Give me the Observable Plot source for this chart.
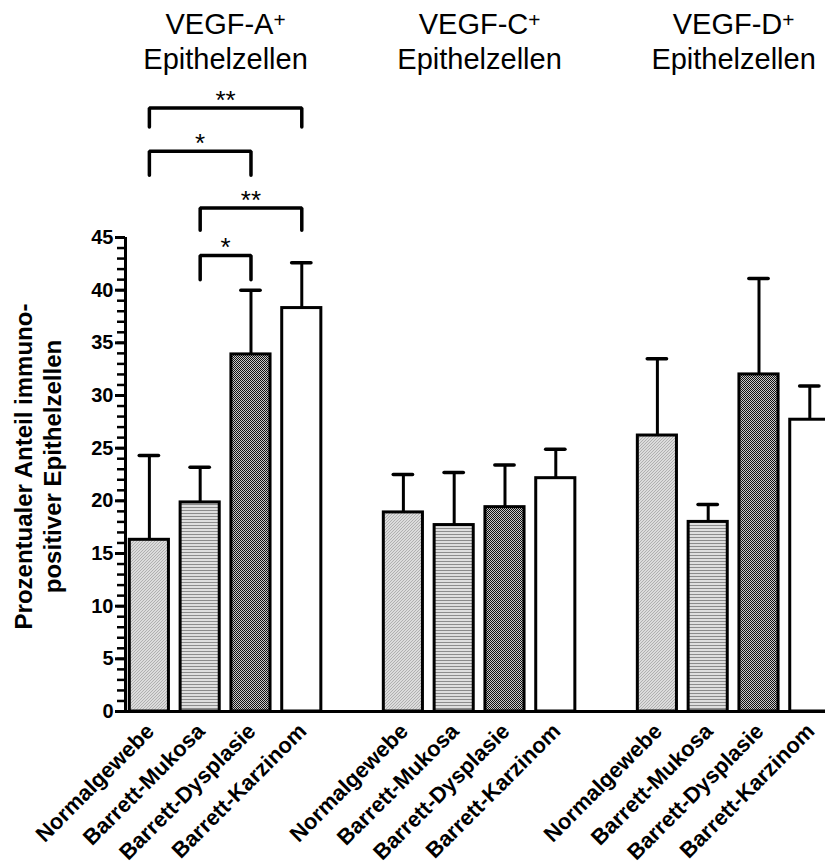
<!DOCTYPE html>
<html><head><meta charset="utf-8">
<script src="https://cdn.jsdelivr.net/npm/d3@7"></script>
<script src="https://cdn.jsdelivr.net/npm/@observablehq/plot@0.6"></script>
<style>
html,body{margin:0;padding:0;background:#fff;overflow:hidden;}
#chart{width:825px;height:866px;overflow:hidden;}
#chart svg{overflow:hidden !important;}
</style></head><body><div id="chart"></div>
<script>
// ---- data ----
const groups = ["VEGF-A", "VEGF-C", "VEGF-D"];
const groupTitles = ["VEGF-A⁺\nEpithelzellen", "VEGF-C⁺\nEpithelzellen", "VEGF-D⁺\nEpithelzellen"];
const categories = ["Normalgewebe", "Barrett-Mukosa", "Barrett-Dysplasie", "Barrett-Karzinom"];
const meanA = [16.3, 19.85, 33.9, 38.3];
const errA  = [8.0, 3.35, 6.1, 4.3];
const meanC = [18.9, 17.7, 19.4, 22.15];
const errC  = [3.6, 5.0, 4.0, 2.75];
const meanD = [26.2, 18.0, 32.0, 27.7];
const errD  = [7.3, 1.65, 9.1, 3.2];
const yTicks = [0, 5, 10, 15, 20, 25, 30, 35, 40, 45];
const yMinorTicks = d3.range(0, 46);
const yTitle = "Prozentualer Anteil immuno-\npositiver Epithelzellen";
// significance brackets (VEGF-A group)
const bracketFrom  = ["Normalgewebe", "Normalgewebe", "Barrett-Mukosa", "Barrett-Mukosa"];
const bracketTo    = ["Barrett-Karzinom", "Barrett-Dysplasie", "Barrett-Karzinom", "Barrett-Dysplasie"];
const bracketTop   = [57.3, 53.2, 47.8, 43.3];
const bracketLeg   = [55.5, 50.9, 45.7, 41.0];
const bracketLabel = ["**", "*", "**", "*"];
const titleY = 61.0;

// ---- build tables ----
const means = [meanA, meanC, meanD];
const errs = [errA, errC, errD];
const slotOf = (gi, ci) => gi * 5 + ci;
const rows = [];
groups.forEach((g, gi) => categories.forEach((c, ci) => rows.push({
  group: g, category: c, slot: slotOf(gi, ci), mean: means[gi][ci], top: means[gi][ci] + errs[gi][ci]
})));
const titles = groups.map((g, gi) => ({text: groupTitles[gi], x: (slotOf(gi, 0) + slotOf(gi, 3)) / 2}));
const bracketPts = [];
const bracketTexts = [];
bracketFrom.forEach((f, i) => {
  const x1 = slotOf(0, categories.indexOf(f)), x2 = slotOf(0, categories.indexOf(bracketTo[i]));
  bracketPts.push({b: i, x: x1, y: bracketLeg[i]}, {b: i, x: x1, y: bracketTop[i]},
                  {b: i, x: x2, y: bracketTop[i]}, {b: i, x: x2, y: bracketLeg[i]});
  bracketTexts.push({x: (x1 + x2) / 2, y: bracketTop[i], text: bracketLabel[i]});
});

const half = 0.385;
const font = "Arial, 'Liberation Sans', sans-serif";

const chart = Plot.plot({
  width: 825, height: 866,
  marginLeft: 125, marginRight: -9.7, marginTop: 237, marginBottom: 155,
  x: {type: "linear", domain: [-0.47, 13.5], axis: null},
  y: {domain: [0, 45]},
  color: {domain: categories, range: ["url(#pat-normal)", "url(#pat-mukosa)", "url(#pat-dysplasie)", "#ffffff"]},
  style: {fontFamily: font, color: "black", background: "white"},
  marks: [
    Plot.rect(rows, {x1: d => d.slot - half, x2: d => d.slot + half, y1: () => 0, y2: "mean",
      fill: "category", stroke: "black", strokeWidth: 3}),
    Plot.ruleX(rows, {x: "slot", y1: "mean", y2: "top", stroke: "black", strokeWidth: 3}),
    Plot.ruleY(rows, {y: "top", x1: d => d.slot - 0.19, x2: d => d.slot + 0.19, stroke: "black", strokeWidth: 3.5, strokeLinecap: "round"}),
    Plot.ruleY([0], {stroke: "black", strokeWidth: 3}),
    Plot.ruleX([-0.47], {y1: 0, y2: 45, stroke: "black", strokeWidth: 3}),
    Plot.axisY(yMinorTicks, {tickSize: 8, tickFormat: () => "", strokeWidth: 2.5, label: null}),
    Plot.axisY(yTicks, {tickSize: 10, tickPadding: 2, fontSize: 20, fontWeight: "bold", strokeWidth: 3, label: null}),
    Plot.text([yTitle], {text: d => d, frameAnchor: "left", textAnchor: "middle", rotate: -90, dx: -88, dy: -8,
      fontSize: 24, fontWeight: "bold", lineHeight: 1.17}),
    Plot.text(rows, {x: "slot", y: () => 0, text: "category", rotate: -45, textAnchor: "end",
      dx: 1, dy: 16, fontSize: 22, fontWeight: "bold"}),
    Plot.text(titles, {x: "x", y: () => titleY, text: "text", lineAnchor: "bottom", fontSize: 29, lineHeight: 1.2}),
    Plot.line(bracketPts, {x: "x", y: "y", z: "b", stroke: "black", strokeWidth: 3.5, strokeLinecap: "round", strokeLinejoin: "miter"}),
    Plot.text(bracketTexts, {x: "x", y: "y", text: "text", lineAnchor: "bottom", dy: 1, fontSize: 26})
  ]
});

const svg = d3.select(chart);
// render the "⁺" of the titles as a real superscript plus sign
svg.selectAll("tspan").each(function () {
  const t = this.textContent;
  if (t.endsWith("⁺")) {
    this.textContent = t.slice(0, -1);
    d3.select(this).append("tspan").attr("baseline-shift", "35%").attr("font-size", "0.72em").text("+");
  }
});
const defs = svg.insert("defs", ":first-child");
const p1 = defs.append("pattern").attr("id", "pat-normal").attr("patternUnits", "userSpaceOnUse").attr("width", 3).attr("height", 3);
p1.append("rect").attr("width", 3).attr("height", 3).attr("fill", "#dcdcdc");
p1.append("path").attr("d", "M0,3L3,0M-1,1L1,-1M2,4L4,2").attr("stroke", "#b0b0b0").attr("stroke-width", 1);
const p2 = defs.append("pattern").attr("id", "pat-mukosa").attr("patternUnits", "userSpaceOnUse").attr("width", 4).attr("height", 3);
p2.append("rect").attr("width", 4).attr("height", 3).attr("fill", "#dedede");
p2.append("rect").attr("width", 4).attr("height", 1).attr("fill", "#8c8c8c");
const p3 = defs.append("pattern").attr("id", "pat-dysplasie").attr("patternUnits", "userSpaceOnUse").attr("width", 2).attr("height", 2);
p3.append("rect").attr("width", 2).attr("height", 2).attr("fill", "#c8c8c8");
p3.append("rect").attr("width", 1).attr("height", 1).attr("fill", "#111");
p3.append("rect").attr("x", 1).attr("y", 1).attr("width", 1).attr("height", 1).attr("fill", "#111");

document.getElementById("chart").appendChild(chart);
</script>
</body></html>
